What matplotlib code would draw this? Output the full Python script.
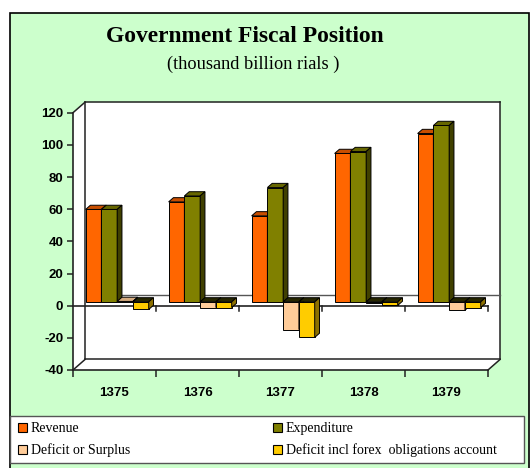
import matplotlib
matplotlib.use('Agg')
import matplotlib.pyplot as plt
from matplotlib.patches import Rectangle, Polygon

# Datos (miles de millardos de riales)
years = ['1375', '1376', '1377', '1378', '1379']
revenue = [57.5, 62.2, 53.5, 92.3, 104.7]
expenditure = [57.5, 65.9, 71.1, 93.5, 109.7]
deficit = [0.3, -3.5, -17.2, -0.7, -5.2]
deficit_forex = [-4.7, -3.5, -22.1, -2.2, -3.5]

series_names = ['Revenue', 'Expenditure', 'Deficit or Surplus',
                'Deficit incl forex  obligations account']
series_values = [revenue, expenditure, deficit, deficit_forex]

# colores: frente, tapa, lateral
front_colors = ['#FF6600', '#808000', '#FFCC99', '#FFCC00']
top_colors = ['#C84E00', '#666600', '#D6AC80', '#CCA300']
side_colors = ['#A04000', '#404000', '#9C7C5C', '#8C7000']

W, H = 530, 468


def fx(px):
    return px / W


def fy(py):
    return 1 - py / H


fig = plt.figure(figsize=(5.3, 4.68), dpi=100)
fig.patch.set_facecolor('white')

# marco verde exterior
fig.patches.append(Rectangle((fx(10), fy(470)), fx(519), 470 / H - 13 / H,
                             transform=fig.transFigure, facecolor='#CCFFCC',
                             edgecolor='black', linewidth=1.2, zorder=-10))

fig.text(fx(245), fy(36), 'Government Fiscal Position', ha='center', va='center',
         family='Liberation Serif', fontweight='bold', fontsize=16.9)
fig.text(fx(253), fy(64), '(thousand billion rials )', ha='center', va='center',
         family='Liberation Serif', fontsize=13.2)

# ejes: plano frontal
ax = fig.add_axes([fx(73), fy(370), (488 - 73) / W, (370 - 112.7) / H])
ax.set_xlim(0, 5)
ax.set_ylim(-40, 120)
ax.patch.set_alpha(0)

DX = 12 / 83.0
DY = 10.5 * 160 / 257.3
f0, f1 = 0.36, 0.76

lc = '#222222'
# paredes blancas
ax.add_patch(Polygon([(0, -40), (0, 120), (DX, 120 + DY), (5 + DX, 120 + DY),
                      (5 + DX, -40 + DY), (5, -40)], closed=True,
                     facecolor='white', edgecolor='none', clip_on=False, zorder=0))
edges = [
    [(DX, -40 + DY), (DX, 120 + DY)],
    [(0, 120), (DX, 120 + DY)],
    [(DX, 120 + DY), (5 + DX, 120 + DY)],
    [(5 + DX, 120 + DY), (5 + DX, -40 + DY)],
    [(0, -40), (DX, -40 + DY)],
    [(5, -40), (5 + DX, -40 + DY)],
    [(DX, -40 + DY), (5 + DX, -40 + DY)],
]
for e in edges:
    ax.plot([e[0][0], e[1][0]], [e[0][1], e[1][1]], color=lc, lw=1.1,
            clip_on=False, zorder=1)
# plano del cero
ax.plot([DX, 5 + DX], [DY, DY], color='#555555', lw=1.0, clip_on=False, zorder=1)
ax.plot([0, 5], [0, 0], color=lc, lw=1.2, clip_on=False, zorder=1)
for i in range(1, 6):
    ax.plot([i, i], [0, -3.2], color=lc, lw=1.1, clip_on=False, zorder=1)

# barras pseudo 3D
bw = 0.19
start = 0.10
for i in range(len(years)):
    for s, vals in enumerate(series_values):
        v = vals[i]
        x0 = i + start + s * bw + f0 * DX
        b0 = f0 * DY
        ax.bar(x0, v, bottom=b0, width=bw, align='edge', color=front_colors[s],
               edgecolor='black', linewidth=0.7, zorder=3 + i * 4 + s)
        ytop = max(v, 0)
        tcol = top_colors[s] if v >= 0 else '#262600'
        ax.add_patch(Polygon([(x0, ytop + b0), (x0 + bw, ytop + b0),
                              (x0 + bw + (f1 - f0) * DX, ytop + f1 * DY),
                              (x0 + (f1 - f0) * DX, ytop + f1 * DY)], closed=True,
                             facecolor=tcol, edgecolor='black', linewidth=0.7,
                             zorder=3 + i * 4 + s))
        ax.add_patch(Polygon([(x0 + bw, b0 + min(v, 0)), (x0 + bw, b0 + ytop),
                              (x0 + bw + (f1 - f0) * DX, ytop + f1 * DY),
                              (x0 + bw + (f1 - f0) * DX, min(v, 0) + f1 * DY)],
                             closed=True, facecolor=side_colors[s],
                             edgecolor='black', linewidth=0.7,
                             zorder=3 + i * 4 + s))

for sp in ['top', 'right']:
    ax.spines[sp].set_visible(False)
ax.spines['left'].set_color(lc)
ax.spines['bottom'].set_color(lc)
ax.spines['left'].set_linewidth(1.2)
ax.spines['bottom'].set_linewidth(1.2)

ax.set_yticks(range(-40, 121, 20))
ax.set_yticklabels([str(t) for t in range(-40, 121, 20)], fontweight='bold',
                   fontsize=9.5, family='Liberation Sans')
ax.tick_params(axis='y', length=4, width=1.1, pad=3, color=lc)
ax.set_xticks([i + 0.5 for i in range(5)])
ax.set_xticklabels(years, fontweight='bold', fontsize=9.5, family='Liberation Sans')
ax.tick_params(axis='x', which='major', length=0, pad=12)
ax.set_xticks(range(6), minor=True)
ax.tick_params(axis='x', which='minor', length=5, width=1.1, color=lc)

# leyenda
fig.patches.append(Rectangle((fx(10), fy(463)), 514 / W, 47 / H,
                             transform=fig.transFigure, facecolor='white',
                             edgecolor='#555555', linewidth=1.0, zorder=1))
leg_pos = [(18, 428), (273, 428), (18, 450), (273, 450)]
for s, name in enumerate(series_names):
    px, py = leg_pos[s]
    fig.patches.append(Rectangle((fx(px), fy(py + 4)), 9 / W, 9 / H,
                                 transform=fig.transFigure,
                                 facecolor=front_colors[s], edgecolor='black',
                                 linewidth=0.8, zorder=2))
    fig.text(fx(px + 13), fy(py + 0.5), name, ha='left', va='center',
             family='Liberation Serif', fontsize=10, zorder=3)

plt.savefig('out.png', dpi=100)
plt.close()
